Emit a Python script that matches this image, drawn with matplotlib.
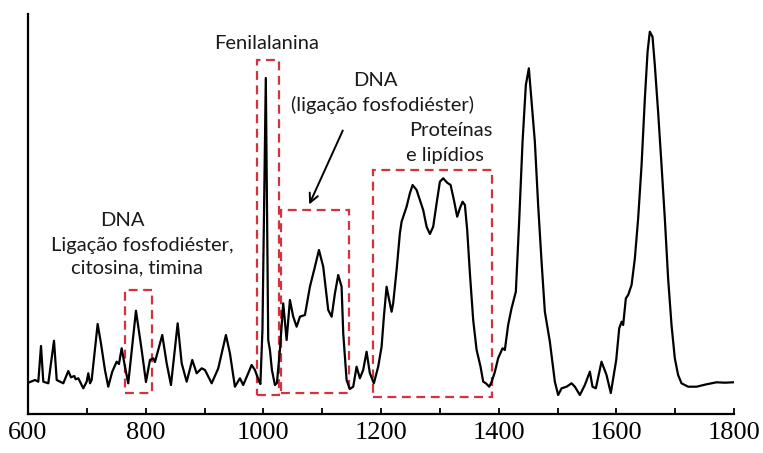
import matplotlib.pyplot as plt
from matplotlib.patches import Rectangle

# spectrum (wavenumber, relative intensity)
wavenumber = [600.5, 611.9, 617.5, 622.1, 626, 634.5, 644.2, 648.8, 660, 668.5,
              673.1, 678.7, 681, 685.5, 694, 699.7, 702.5, 705.4, 708.2, 718.4,
              724, 730.8, 736.4, 743.2, 750.7, 754.6, 759.2, 764.8, 770.4, 783.5,
              793.2, 800.5, 807.3, 812.9, 815.8, 828.2, 835.7, 843, 854.4, 861.2,
              869.7, 879.2, 886.7, 895.2, 900.8, 912.2, 923.4, 936.4, 943.2, 951.7,
              960.2, 965.8, 974.3, 980.1, 985.7, 993, 995, 998.5, 1002.7, 1004.2,
              1006.1, 1008.3, 1011.2, 1014.6, 1019.7, 1023.1, 1028.2, 1033.8, 1039.6, 1045.2,
              1050.8, 1056.6, 1062.2, 1070.7, 1079.2, 1087.7, 1094.5, 1101.8, 1110.3, 1116.1,
              1121.7, 1127.3, 1133, 1135.8, 1141.5, 1147.1, 1152.8, 1158.5, 1164.1, 1169.7,
              1175.5, 1181.1, 1187.9, 1195.2, 1201, 1204.9, 1209.5, 1213.9, 1218, 1220.7,
              1226.5, 1232.1, 1235, 1243.5, 1249.1, 1253.7, 1260.5, 1266.1, 1271.7, 1277.5,
              1283.1, 1288.7, 1294.5, 1300.1, 1305.7, 1312.5, 1318.3, 1323.9, 1329.5, 1334.1,
              1338.7, 1342.6, 1346.5, 1351.1, 1356.7, 1362.5, 1369.2, 1373.7, 1378.3, 1383.9,
              1388, 1393.5, 1399.2, 1406.6, 1410.5, 1416.1, 1421.9, 1429.2, 1434.8, 1440.6,
              1446.2, 1451.3, 1455.9, 1461.5, 1467.1, 1472.9, 1478.5, 1487, 1495.5, 1501.1,
              1506.9, 1515.4, 1523.9, 1529.5, 1538, 1546.5, 1555, 1559.5, 1565.2, 1574.8,
              1583.3, 1590.6, 1599.8, 1604.9, 1609, 1611.6, 1616.2, 1620.1, 1625.9, 1631.5,
              1637.1, 1642.9, 1648.5, 1653.1, 1656.9, 1661.5, 1665.4, 1671, 1676.8, 1682.4,
              1688, 1693.8, 1699.4, 1705, 1710.8, 1722, 1736.3, 1753.3, 1770.3, 1784.4,
              1798.5]
intensity = [31.3, 34, 32.3, 68, 32.3, 30.7, 73.3, 34, 30.7, 43,
             36.7, 38, 34.7, 35.7, 25.7, 32.3, 40.7, 30.7, 34, 90,
             70.7, 44, 27.3, 42.3, 52.3, 50, 65.7, 47.3, 30.7, 103.3,
             64, 32, 54, 55.7, 52, 79, 50.7, 29, 90.7, 50.7,
             32.3, 54, 40.7, 45.7, 44, 30.7, 45.7, 79, 60.7, 27.3,
             35.7, 29, 40.7, 49, 44, 32.3, 30, 84, 264, 336,
             214, 74, 64, 44, 29, 31, 64, 110.7, 74, 114,
             97.3, 87.3, 97.3, 99, 127.3, 147.3, 164, 147.3, 104, 97.3,
             120.7, 139, 127.3, 80.7, 34, 25, 27.3, 47.3, 35.7, 44,
             62.3, 40.7, 30.7, 47.3, 67.3, 97.3, 127.3, 114, 102.3, 110.7,
             144, 180.7, 192.3, 207.3, 220.7, 229, 224, 214, 204, 187.3,
             180, 187.3, 210.7, 232.3, 235.7, 231.3, 229, 214, 197.3, 205.7,
             212.3, 209, 184, 140.7, 94, 64, 47.3, 32.3, 30.7, 27.3,
             32, 42, 56, 65.7, 64, 89, 105.7, 122.3, 192.3, 272.3,
             329, 345.7, 312.3, 272.3, 209, 152.3, 102.3, 72.3, 32.3, 19,
             25.7, 27.3, 30.7, 27.3, 19, 29, 42.3, 27.3, 25.7, 52.3,
             39, 21, 54, 85.7, 92.3, 89, 115.7, 119, 129, 155.7,
             195.7, 249, 315.7, 362.3, 382.3, 377.3, 349, 302.3, 249, 195.7,
             135.7, 89, 55.7, 39, 30.7, 27.3, 27.3, 29.7, 31.7, 31.3,
             31.7]

# highlighted regions: (x0, x1, y0, y1)
box_dna_small = (764.8, 810.7, 21, 124)
box_phe = (989.1, 1026.5, 19, 354)
box_dna_mid = (1029.9, 1145.4, 21, 204)
box_prot = (1186.2, 1388.4, 17, 244)
boxes = [box_dna_small, box_phe, box_dna_mid, box_prot]

# annotation texts (label, x, y)
labels = [('Fenilalanina', 1006, 370.7),
          ('DNA', 1191, 334),
          ('(ligação fosfodiéster)', 1203, 309),
          ('Proteínas', 1319, 284),
          ('e lipídios', 1309, 259),
          ('DNA', 761, 194),
          ('Ligação fosfodiéster,', 795, 169),
          ('citosina, timina', 786, 145.7)]

xticks_major = [600, 800, 1000, 1200, 1400, 1600, 1800]
xticks_minor = [700, 900, 1100, 1300, 1500, 1700]

fig = plt.figure(figsize=(7.63, 4.53), dpi=100)
ax = fig.add_axes([28 / 763, 39 / 453, 706 / 763, 400 / 453])

ax.plot(wavenumber, intensity, color='black', lw=1.6)

red = '#d2343f'
for x0, x1, y0, y1 in boxes:
    ax.add_patch(Rectangle((x0, y0), x1 - x0, y1 - y0, fill=False,
                           edgecolor=red, lw=1.6, linestyle=(0, (4, 2.5))))

for s, x, y in labels:
    ax.text(x, y, s, ha='center', va='center', fontsize=14.5,
            color='#1a1a1a', family='Lato')

ax.annotate('', xy=(1076, 207), xytext=(1137, 286),
            arrowprops=dict(arrowstyle='->', color='black', lw=1.4,
                            mutation_scale=16))

ax.set_xlim(600, 1800)
ax.set_ylim(0, 400)
ax.set_yticks([])
ax.set_xticks(xticks_major)
ax.set_xticks(xticks_minor, minor=True)
ax.set_xticklabels([str(t) for t in xticks_major], family='Liberation Serif', fontsize=19)
ax.tick_params(axis='x', which='both', direction='in', length=4, width=1.3, pad=6)
for side in ['top', 'right']:
    ax.spines[side].set_visible(False)
for side in ['left', 'bottom']:
    ax.spines[side].set_linewidth(1.6)

plt.savefig('out.png', dpi=100)
